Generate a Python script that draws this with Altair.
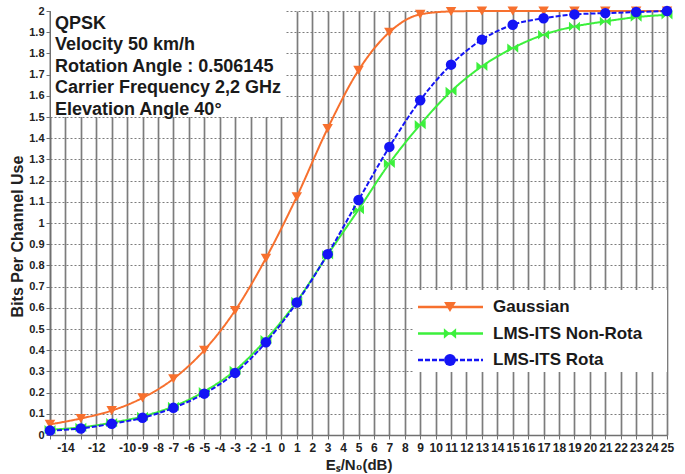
import altair as alt
import pandas as pd

# ---- data ----
snr_db = list(range(-15, 26, 2))
gaussian = [0.05, 0.078, 0.115, 0.175, 0.265, 0.40, 0.587, 0.834, 1.124, 1.446,
            1.72, 1.90, 1.984, 1.998, 2.0, 2.0, 2.0, 2.0, 2.0, 2.0, 2.0]
lms_nonrota = [0.025, 0.036, 0.058, 0.088, 0.135, 0.205, 0.305, 0.45, 0.63, 0.85,
               1.063, 1.281, 1.464, 1.621, 1.739, 1.825, 1.888, 1.927, 1.951, 1.971, 1.982]
lms_rota = [0.021, 0.031, 0.053, 0.081, 0.128, 0.195, 0.293, 0.437, 0.625, 0.853,
            1.108, 1.359, 1.579, 1.747, 1.865, 1.935, 1.966, 1.984, 1.99, 1.995, 2.0]
series_names = ["Gaussian", "LMS-ITS Non-Rota", "LMS-ITS Rota"]
info_lines = ["QPSK", "Velocity 50 km/h", "Rotation Angle : 0.506145",
              "Carrier Frequency 2,2 GHz", "Elevation Angle 40°"]
x_ticks = list(range(-15, 26))
y_ticks = [i / 10 for i in range(21)]

# ---- styling ----
W, H = 617, 424
FONT = "Liberation Sans"
colors = ["#F7702E", "#3CF03C", "#1414F5"]
BOWTIE = "M-1,-0.85L0,0L-1,0.85Z M1,-0.85L0,0L1,0.85Z"
shapes = ["triangle-down", BOWTIE, "circle"]
sizes = [110, 120, 110]
dashes = [[1, 0], [1, 0], [5, 2]]

xscale = alt.Scale(domain=[-15, 25], nice=False, zero=False)
yscale = alt.Scale(domain=[0, 2], nice=False, zero=False)

x_axis = alt.Axis(
    values=x_ticks, title="Eₛ/N₀(dB)",
    labelExpr="(datum.value == -15 || datum.value == -13 || datum.value == -11) ? '' : datum.value",
    grid=True, gridColor="#7c7c7c", gridWidth=1.7,
    domainColor="#707070", domainWidth=1.5, tickColor="#707070", tickSize=4,
    labelFont=FONT, labelFontWeight="bold", labelFontSize=12, labelColor="#222222",
    labelPadding=3, labelAngle=0, labelOverlap=False, labelFlush=False,
    titleFont=FONT, titleFontWeight="bold", titleFontSize=15, titleColor="#222222",
    titlePadding=4,
)
y_axis = alt.Axis(
    values=y_ticks, title="Bits Per Channel Use",
    labelExpr="round(datum.value * 10) / 10",
    grid=True, gridColor="#7c7c7c", gridWidth=1, gridDash=[2, 2],
    domainColor="#707070", domainWidth=1.5, tickColor="#707070", tickSize=4,
    labelFont=FONT, labelFontWeight="bold", labelFontSize=11, labelColor="#222222",
    labelPadding=2, labelOverlap=False, labelFlush=False,
    titleFont=FONT, titleFontWeight="bold", titleFontSize=16, titleColor="#222222",
    titlePadding=3, titleY=225,
)

xe = alt.X("x:Q", scale=xscale, axis=x_axis)
ye = alt.Y("y:Q", scale=yscale, axis=y_axis)

series_values = [gaussian, lms_nonrota, lms_rota]
layers = []
for i, (name, vals) in enumerate(zip(series_names, series_values)):
    d = pd.DataFrame({"x": snr_db, "y": vals, "series": name})
    base = alt.Chart(d)
    line = base.mark_line(color=colors[i], strokeWidth=2, strokeDash=dashes[i],
                          interpolate="monotone", clip=False).encode(x=xe, y=ye)
    pts = base.mark_point(shape=shapes[i], size=sizes[i], filled=True, color=colors[i],
                          opacity=1, clip=False).encode(x=xe, y=ye)
    layers += [line, pts]

# ---- info text box (top-left) ----
box_df = pd.DataFrame({"k": [0]})
layers.append(alt.Chart(box_df).mark_rect(color="white").encode(
    x=alt.value(1), x2=alt.value(236), y=alt.value(0), y2=alt.value(106)))
info_y = [13, 34, 55.5, 77, 98.5]
for line_text, yy in zip(info_lines, info_y):
    layers.append(alt.Chart(pd.DataFrame({"t": [line_text]})).mark_text(
        align="left", baseline="middle", font=FONT, fontWeight="bold", fontSize=18,
        color="#1a1a1a").encode(x=alt.value(5), y=alt.value(yy), text="t:N"))

# ---- legend (manual) ----
layers.append(alt.Chart(box_df).mark_rect(color="white").encode(
    x=alt.value(363), x2=alt.value(617), y=alt.value(279), y2=alt.value(361)))
leg_y = [296, 322.5, 349]
for i, name in enumerate(series_names):
    ldf = pd.DataFrame({"t": [name]})
    layers.append(alt.Chart(ldf).mark_rule(color=colors[i], strokeWidth=2.5,
                                           strokeDash=dashes[i]).encode(
        x=alt.value(368), x2=alt.value(433), y=alt.value(leg_y[i])))
    layers.append(alt.Chart(ldf).mark_point(shape=shapes[i], size=sizes[i] + 30, filled=True,
                                            color=colors[i], opacity=1).encode(
        x=alt.value(400), y=alt.value(leg_y[i])))
    layers.append(alt.Chart(ldf).mark_text(
        align="left", baseline="middle", font=FONT, fontWeight="bold", fontSize=17,
        color="#1a1a1a").encode(x=alt.value(443), y=alt.value(leg_y[i]), text="t:N"))

chart = alt.layer(*layers).properties(
    width=W, height=H,
    autosize=alt.AutoSizeParams(type="none"),
    padding={"left": 50, "top": 11, "right": 18, "bottom": 39},
    background="white",
).configure_view(stroke=None)

chart.save("out.html", embed_options={"renderer": "svg", "actions": False})
